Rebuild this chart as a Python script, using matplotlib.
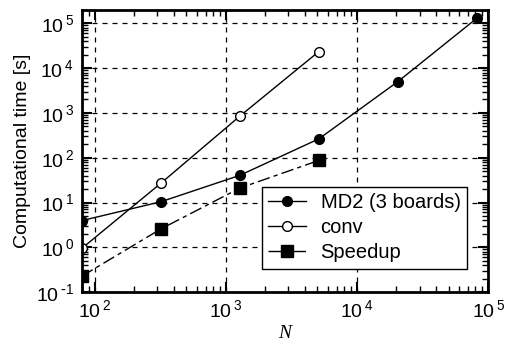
import math
import matplotlib
matplotlib.use("Agg")
import matplotlib.pyplot as plt
from matplotlib.ticker import FixedLocator, LogLocator, FuncFormatter, NullFormatter

N = [80, 320, 1280, 5120, 20480, 81920]
md2 = [3.95, 10.4, 40.5, 264, 5000, 1.3e5]
N_conv = [80, 320, 1280, 5120]
conv = [0.95, 27, 850, 23500]
speedup = [0.227, 2.57, 21, 87]
x_ticks = [1e2, 1e3, 1e4, 1e5]
y_ticks = [1e-1, 1e0, 1e1, 1e2, 1e3, 1e4, 1e5]

plt.rcParams['font.family'] = ['Liberation Sans', 'DejaVu Sans']
plt.rcParams['mathtext.default'] = 'regular'

fig = plt.figure(figsize=(5.09, 3.42), dpi=100)
ax = fig.add_axes([0.161, 0.146, 0.798, 0.825])

ax.plot(N, md2, '-', color='black', lw=1, marker='o', ms=7, mfc='black', mec='black',
        label='MD2 (3 boards)')
ax.plot(N_conv, conv, '-', color='black', lw=1, marker='o', ms=7, mfc='white', mec='black',
        mew=1, label='conv')
ax.plot(N_conv, speedup, color='black', lw=1, ls=(0, (9, 3, 3, 3)), marker='s', ms=8,
        mfc='black', mec='black', label='Speedup')

ax.set_xscale('log')
ax.set_yscale('log')
ax.set_xlim(80, 1e5)
ax.set_ylim(1e-1, 2e5)


def fmt_func(v, p):
    e = round(math.log10(v))
    if e < 0:
        return r'$10^{\,\text{-}%d}$' % (-e)
    return r'$10^{\,%d}$' % e


fmt = FuncFormatter(fmt_func)
ax.xaxis.set_major_locator(FixedLocator(x_ticks))
ax.yaxis.set_major_locator(FixedLocator(y_ticks))
ax.xaxis.set_major_formatter(fmt)
ax.yaxis.set_major_formatter(fmt)
ax.xaxis.set_minor_locator(LogLocator(base=10, subs=range(2, 10), numticks=20))
ax.yaxis.set_minor_locator(LogLocator(base=10, subs=range(2, 10), numticks=20))
ax.xaxis.set_minor_formatter(NullFormatter())
ax.yaxis.set_minor_formatter(NullFormatter())

ax.tick_params(which='both', direction='in', top=True, right=True, labelsize=14)
ax.tick_params(which='major', length=7, width=1.5)
ax.tick_params(which='minor', length=4, width=1)
ax.tick_params(axis='x', which='major', pad=5)
ax.tick_params(axis='y', which='major', pad=6)

ax.grid(True, which='major', color='black', ls=(0, (4, 4)), lw=0.9)
for s in ax.spines.values():
    s.set_linewidth(2)

ax.set_ylabel('Computational time [s]', fontsize=14)
ax.yaxis.set_label_coords(-0.126, 0.5)
ax.set_xlabel('N', fontsize=14, family='Liberation Serif', style='italic')
ax.xaxis.set_label_coords(0.5, -0.118)

leg = ax.legend(loc='lower right', bbox_to_anchor=(0.948, 0.082), fontsize=14.5,
                fancybox=False, framealpha=1, edgecolor='black', handlelength=1.9,
                borderpad=0.32, borderaxespad=0, labelspacing=0.3, handletextpad=0.7)
leg.get_frame().set_linewidth(1)

fig.savefig('out.png', dpi=100)
